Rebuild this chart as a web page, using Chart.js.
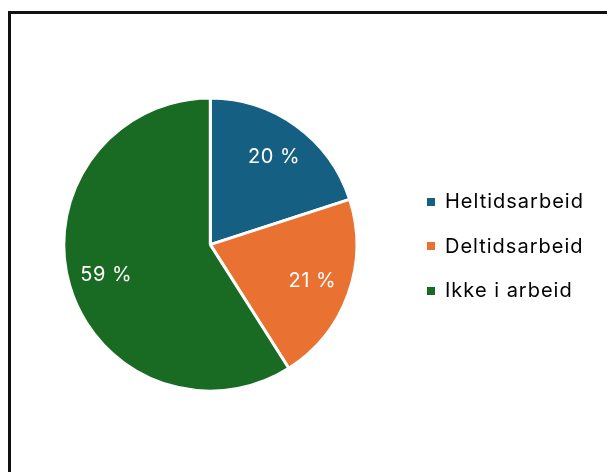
<!DOCTYPE html>
<html>
<head>
<meta charset="utf-8">
<script src="https://cdn.jsdelivr.net/npm/chart.js@4.4.1/dist/chart.umd.min.js"></script>
<style>
  html, body { margin: 0; padding: 0; background: #fff; }
  #wrap { position: relative; width: 607px; height: 472px; overflow: hidden; }
  #frame {
    position: absolute; left: 8px; top: 11px; width: 700px; height: 600px;
    border-left: 3px solid #111; border-top: 3px solid #111;
  }
  #box { position: absolute; left: 0; top: 0; width: 607px; height: 472px; }
  #legend {
    position: absolute; left: 427px; top: 179px; margin: 0; padding: 0;
    list-style: none; font-family: Inter, sans-serif; font-size: 20px;
    letter-spacing: 1px; color: #000;
  }
  #legend li { height: 44.5px; line-height: 44.5px; white-space: nowrap; }
  #legend span.sw {
    display: inline-block; width: 8px; height: 8px; margin-right: 10px;
    vertical-align: middle; position: relative; top: -1px;
  }
</style>
</head>
<body>
<div id="wrap">
  <div id="frame"></div>
  <div id="box"><canvas id="pieChart"></canvas></div>
  <ul id="legend"></ul>
</div>
<script>
// Employment status shares (percent)
const categories = ['Heltidsarbeid', 'Deltidsarbeid', 'Ikke i arbeid'];
const shares = [20, 21, 59];
const sliceColors = ['#156082', '#E97132', '#196B24'];

// Percent text placed inside each slice, along the mid angle
const sliceLabels = {
  id: 'sliceLabels',
  afterDatasetsDraw(chart) {
    const ctx = chart.ctx;
    const meta = chart.getDatasetMeta(0);
    ctx.save();
    ctx.fillStyle = '#fff';
    ctx.font = '20px Inter, sans-serif';
    ctx.letterSpacing = '0.5px';
    ctx.textAlign = 'center';
    ctx.textBaseline = 'middle';
    meta.data.forEach((arc, i) => {
      const p = arc.getProps(['x', 'y', 'startAngle', 'endAngle', 'outerRadius'], true);
      const mid = (p.startAngle + p.endAngle) / 2;
      const r = p.outerRadius * 0.74;
      ctx.fillText(shares[i] + ' %', p.x + Math.cos(mid) * r, p.y + Math.sin(mid) * r);
    });
    ctx.restore();
  }
};

const pieCtx = document.getElementById('pieChart').getContext('2d');
const pieChart = new Chart(pieCtx, {
  type: 'pie',
  data: {
    labels: categories,
    datasets: [{
      data: shares,
      backgroundColor: sliceColors,
      borderColor: '#fff',
      borderWidth: 3
    }]
  },
  options: {
    responsive: true,
    maintainAspectRatio: false,
    animation: false,
    layout: {
      padding: { left: 62.3, top: 96.6, right: 248.7, bottom: 79.4 }
    },
    plugins: {
      legend: { display: false },
      tooltip: { enabled: false }
    }
  },
  plugins: [sliceLabels]
});

// Legend list built from the same arrays
const legendEl = document.getElementById('legend');
categories.forEach((name, i) => {
  const li = document.createElement('li');
  li.innerHTML = '<span class="sw" style="background:' + sliceColors[i] + '"></span>' + name;
  legendEl.appendChild(li);
});
</script>
</body>
</html>
